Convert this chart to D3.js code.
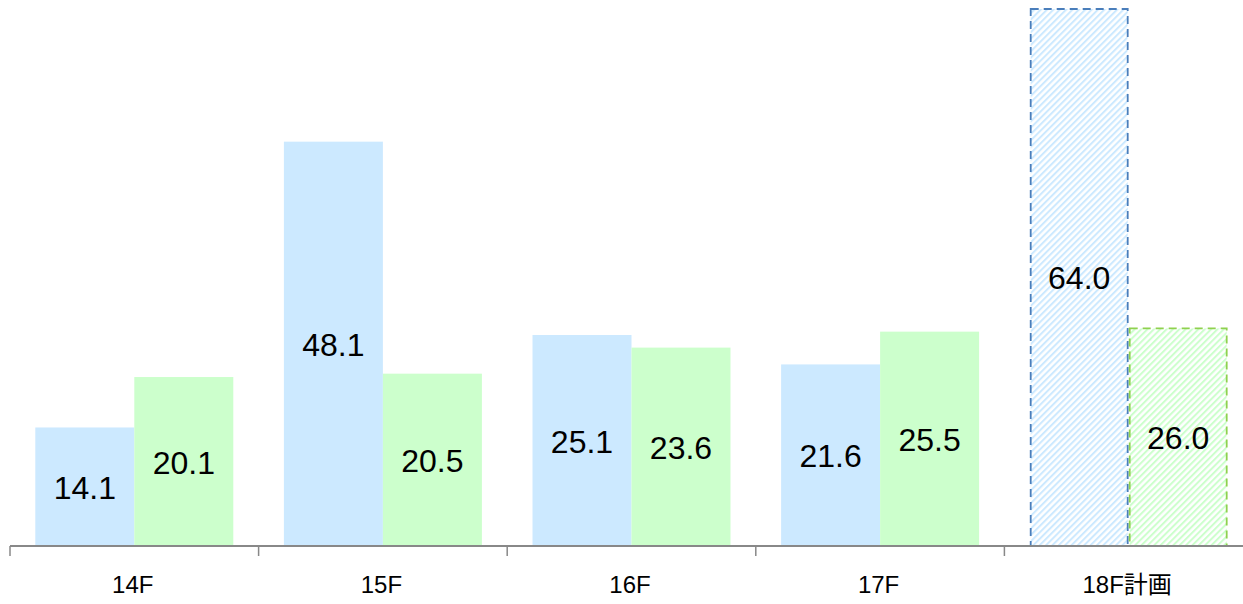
<!DOCTYPE html>
<html><head><meta charset="utf-8">
<script src="https://cdn.jsdelivr.net/npm/d3@7"></script>
<style>html,body{margin:0;padding:0;background:#fff;}svg{display:block;}</style>
</head><body><svg id="c" width="1243" height="604"></svg>
<script>
const categories = ["14F","15F","16F","17F","18F計画"];
const seriesA = [14.1, 48.1, 25.1, 21.6, 64.0];
const seriesB = [20.1, 20.5, 23.6, 25.5, 26.0];
const planned = [false, false, false, false, true];
const yMax = 64;

const svg = d3.select("#c");
const W = 1243, H = 604;
const x0 = 10, x1 = 10 + 248.6 * 5, yBase = 546, yTop = 8;

const defs = svg.append("defs");
function hatch(id, color) {
  const p = defs.append("pattern").attr("id", id).attr("patternUnits", "userSpaceOnUse")
    .attr("width", 4.5).attr("height", 4.5).attr("patternTransform", "rotate(45)");
  p.append("rect").attr("width", 4.5).attr("height", 4.5).attr("fill", "#fff");
  p.append("rect").attr("x", 0).attr("y", 0).attr("width", 2).attr("height", 4.5).attr("fill", color);
}
hatch("hA", "#cce9ff");
hatch("hB", "#ccffcc");

const x = d3.scaleBand().domain(categories).range([x0, x1]).paddingInner(0).paddingOuter(0);
const inner = d3.scaleBand().domain(["A","B"]).range([0, x.bandwidth()]).paddingOuter(0.2556).paddingInner(0);
const y = d3.scaleLinear().domain([0, yMax]).range([yBase, yTop]);

const rows = categories.map((c,i)=>({c, plan: planned[i], vals:[{k:"A", v:seriesA[i]},{k:"B", v:seriesB[i]}]}));
const fillSolid = {A:"#cce9ff", B:"#ccffcc"};
const strokeCol = {A:"#4a7ebb", B:"#8fd14f"};

const g = svg.append("g");
const grp = g.selectAll("g.cat").data(rows).join("g").attr("transform", d=>`translate(${x(d.c)},0)`);
grp.each(function(d){
  const gg = d3.select(this);
  d.vals.forEach(b=>{
    const bx = inner(b.k), bw = inner.bandwidth();
    const r = gg.append("rect").attr("x", bx).attr("width", bw)
      .attr("y", y(b.v)).attr("height", yBase - y(b.v));
    if (d.plan) {
      r.attr("fill", `url(#h${b.k})`).attr("stroke", strokeCol[b.k]).attr("stroke-width", 1.8)
       .attr("stroke-dasharray", "8,5")
       .attr("x", bx + 1).attr("width", bw - 2).attr("y", y(b.v)+1).attr("height", yBase - y(b.v) - 1);
    } else {
      r.attr("fill", fillSolid[b.k]);
    }
    gg.append("text").attr("x", bx + bw/2).attr("y", (y(b.v)+yBase)/2 + 1)
      .attr("text-anchor","middle").attr("dominant-baseline","central")
      .attr("font-family","Liberation Sans, Arial, sans-serif").attr("font-size", 32)
      .attr("fill","#000").text(b.v.toFixed(1));
  });
});

const ax = svg.append("g").attr("transform", `translate(0,${yBase})`);
ax.append("line").attr("x1", x0).attr("x2", W).attr("y1", 0).attr("y2", 0)
  .attr("stroke", "#888").attr("stroke-width", 2);
const bounds = d3.range(categories.length + 1).map(i => x0 + i * x.step());
ax.selectAll("line.tk").data(bounds).join("line").attr("class","tk")
  .attr("x1", d=>d).attr("x2", d=>d).attr("y1", 0).attr("y2", 10)
  .attr("stroke", "#888").attr("stroke-width", 1.5);
ax.selectAll("text.lbl").data(categories).join("text").attr("class","lbl")
  .attr("x", d=>x(d)+x.bandwidth()/2 - 1.5).attr("y", 47)
  .attr("text-anchor","middle")
  .attr("font-family","Liberation Sans, Arial, 'Noto Sans CJK JP', sans-serif").attr("font-size", 24)
  .attr("fill","#000").text(d=>d);
</script>
</body></html>
